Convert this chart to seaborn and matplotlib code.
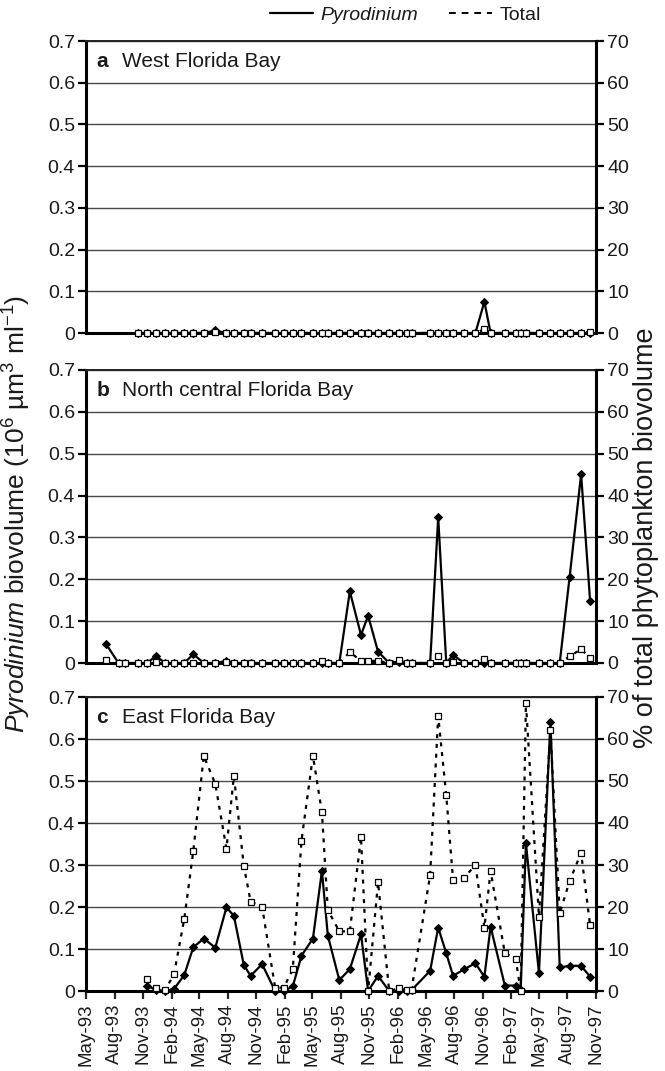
import numpy as np
import pandas as pd
import matplotlib
matplotlib.use("Agg")
import matplotlib.pyplot as plt
import matplotlib.dates as mdates
from matplotlib.lines import Line2D
import seaborn as sns

# ---------------- data ----------------
sample_dates = ['1993-07-04', '1993-08-14', '1993-09-03', '1993-10-16', '1993-11-15', '1993-12-12',
                '1994-01-11', '1994-02-09', '1994-03-14', '1994-04-12', '1994-05-16', '1994-06-22',
                '1994-07-28', '1994-08-21', '1994-09-22', '1994-10-14', '1994-11-20',
                '1995-01-01', '1995-01-29', '1995-02-27', '1995-03-27', '1995-05-03', '1995-06-01',
                '1995-06-20', '1995-07-27', '1995-08-30', '1995-10-05', '1995-10-28', '1995-11-29',
                '1996-01-04', '1996-02-03', '1996-03-02', '1996-03-16', '1996-05-15', '1996-06-10',
                '1996-07-06', '1996-07-28', '1996-09-02', '1996-10-08', '1996-11-06', '1996-11-26',
                '1997-01-11', '1997-02-15', '1997-03-03', '1997-03-20', '1997-05-01', '1997-06-07',
                '1997-07-07', '1997-08-08', '1997-09-14', '1997-10-13']

# a  West Florida Bay (from Oct-93)
west_dates = sample_dates[3:]
west_pyro = [0, 0, 0,
             0, 0, 0, 0, 0, 0.006, 0, 0, 0, 0, 0,
             0, 0, 0, 0, 0, 0, 0, 0, 0, 0, 0, 0,
             0, 0, 0, 0, 0, 0, 0, 0, 0, 0, 0.075, 0,
             0, 0, 0, 0, 0, 0, 0, 0, 0, 0]
west_total = [0, 0, 0,
              0, 0, 0, 0, 0, 0.2, 0, 0, 0, 0, 0,
              0, 0, 0, 0, 0, 0, 0, 0, 0, 0, 0, 0,
              0, 0, 0, 0, 0, 0, 0, 0, 0, 0, 0.9, 0,
              0, 0, 0, 0, 0, 0, 0, 0, 0, 0.3]

# b  North central Florida Bay (from Jul-93)
north_dates = sample_dates
north_pyro = [0.046, 0, 0, 0, 0, 0.017,
              0, 0, 0, 0.021, 0, 0, 0.005, 0, 0, 0, 0,
              0, 0, 0, 0, 0, 0, 0, 0, 0.171, 0.067, 0.113, 0.027,
              0, 0.003, 0, 0, 0, 0.348, 0, 0.019, 0, 0, 0, 0,
              0, 0, 0, 0, 0, 0, 0, 0.206, 0.451, 0.148]
north_total = [0.6, 0, 0, 0, 0, 0.3,
               0, 0, 0, 0.1, 0, 0, 0.3, 0, 0, 0, 0,
               0, 0, 0, 0, 0, 0.4, 0, 0, 2.6, 0.5, 0.5, 0.5,
               0, 0.7, 0, 0, 0, 1.7, 0, 0.3, 0, 0, 1.0, 0,
               0, 0, 0, 0, 0, 0, 0, 1.6, 3.3, 1.2]

# c  East Florida Bay (from Nov-93)
east_dates = sample_dates[4:]
east_pyro = [0.012, 0.003,
             0.0, 0.005, 0.038, 0.104, 0.125, 0.103, 0.199, 0.179, 0.062, 0.036, 0.064,
             0.0, 0.0, 0.011, 0.084, 0.125, 0.286, 0.132, 0.026, 0.052, 0.135, 0.0, 0.036,
             0.0, 0.0, 0.0, 0.002, 0.048, 0.151, 0.090, 0.036, 0.052, 0.066, 0.034, 0.153,
             0.013, 0.013, 0.002, 0.352, 0.042, 0.641, 0.056, 0.060, 0.060, 0.034]
east_total = [2.8, 0.8,
              0.2, 4.0, 17.2, 33.3, 56.0, 49.3, 33.9, 51.2, 29.8, 21.3, 20.1,
              0.8, 0.8, 5.2, 35.8, 56.0, 42.5, 19.3, 14.2, 14.2, 36.7, 0.0, 25.9,
              0.0, 0.6, 0.2, 0.3, 27.6, 65.5, 46.6, 26.4, 27.0, 30.0, 15.1, 28.6,
              9.0, 7.7, 0.0, 68.6, 17.7, 62.1, 18.5, 26.2, 32.9, 15.6]

panel_letters = ['a', 'b', 'c']
panel_titles = ['West Florida Bay', 'North central Florida Bay', 'East Florida Bay']
left_ticks = [0, 0.1, 0.2, 0.3, 0.4, 0.5, 0.6, 0.7]
left_tick_labels = ['0', '0.1', '0.2', '0.3', '0.4', '0.5', '0.6', '0.7']
right_ticks = [0, 10, 20, 30, 40, 50, 60, 70]
right_tick_labels = ['0', '10', '20', '30', '40', '50', '60', '70']
x_start, x_end = '1993-05-01', '1997-11-01'

# ---------------- style ----------------
sns.set_theme(style="white")
plt.rcParams['font.family'] = ['Liberation Sans', 'DejaVu Sans']
plt.rcParams['mathtext.fontset'] = 'custom'
plt.rcParams['mathtext.rm'] = 'Liberation Sans'
plt.rcParams['mathtext.it'] = 'Liberation Sans:italic'
plt.rcParams['mathtext.bf'] = 'Liberation Sans:bold'

TXT = '#1a1a1a'
fig = plt.figure(figsize=(6.65, 10.71), dpi=100)

rects = [
    [86 / 665, (1071 - 333) / 1071, 510 / 665, 292 / 1071],
    [86 / 665, (1071 - 663) / 1071, 510 / 665, 293 / 1071],
    [86 / 665, (1071 - 991) / 1071, 510 / 665, 294 / 1071],
]
datasets = [(west_dates, west_pyro, west_total),
            (north_dates, north_pyro, north_total),
            (east_dates, east_pyro, east_total)]

for i, (rect, (dts, pyro, total)) in enumerate(zip(rects, datasets)):
    ax = fig.add_axes(rect)
    ax2 = ax.twinx()
    df = pd.DataFrame({'date': pd.to_datetime(dts), 'pyro': pyro, 'total': total})

    ax.set_ylim(0, 0.7)
    ax2.set_ylim(0, 70)
    ax.set_xlim(pd.Timestamp(x_start), pd.Timestamp(x_end))

    sns.lineplot(data=df, x='date', y='pyro', ax=ax, color='black', linewidth=1.6,
                 marker='D', markersize=4.2, markeredgecolor='black', markerfacecolor='black',
                 clip_on=False, zorder=3)
    sns.lineplot(data=df, x='date', y='total', ax=ax2, color='black', linewidth=1.6,
                 linestyle=(0, (1.8, 2.6)), marker='s', markersize=4.6,
                 markerfacecolor='white', markeredgecolor='black', markeredgewidth=0.9,
                 clip_on=False, zorder=3)
    ax2.set_xlim(pd.Timestamp(x_start), pd.Timestamp(x_end))

    ax.set_xlabel('')
    ax.set_ylabel('')
    ax2.set_xlabel('')
    ax2.set_ylabel('')

    ax.set_yticks(left_ticks)
    ax.set_yticklabels(left_tick_labels)
    ax2.set_yticks(right_ticks)
    ax2.set_yticklabels(right_tick_labels)

    ax.yaxis.grid(True, color='#4a4a4a', linewidth=1.0)
    ax.xaxis.grid(False)
    ax.set_axisbelow(True)

    for s in ['left', 'bottom']:
        ax.spines[s].set_linewidth(2.2)
        ax.spines[s].set_color('black')
    ax.spines['top'].set_linewidth(1.4)
    ax.spines['top'].set_color('#222222')
    ax.spines['right'].set_visible(False)
    for s in ['left', 'bottom', 'top']:
        ax2.spines[s].set_visible(False)
    ax2.spines['right'].set_linewidth(2.2)
    ax2.spines['right'].set_color('black')

    ax.tick_params(axis='y', direction='out', length=6, width=1.6, labelsize=14,
                   colors='black', labelcolor=TXT, pad=2, left=True)
    ax2.tick_params(axis='y', direction='out', length=6, width=1.6, labelsize=14,
                    colors='black', labelcolor=TXT, pad=2, right=True)

    ax.xaxis.set_major_locator(mdates.MonthLocator(bymonth=[2, 5, 8, 11]))
    ax.xaxis.set_major_formatter(mdates.DateFormatter('%b-%y'))
    if i < 2:
        ax.tick_params(axis='x', length=0, labelbottom=False, bottom=False)
    else:
        ax.tick_params(axis='x', direction='out', length=6, width=1.6, labelsize=13.5,
                       labelcolor=TXT, rotation=90, pad=3, bottom=True)

    ax.text(0.02, 0.93, panel_letters[i], transform=ax.transAxes, fontsize=15,
            fontweight='bold', va='center', ha='left', color=TXT)
    ax.text(0.07, 0.93, panel_titles[i], transform=ax.transAxes, fontsize=15,
            va='center', ha='left', color=TXT)

fig.text(0.026, 0.52, r'$\it{Pyrodinium}$ biovolume (10$^{6}$ µm$^{3}$ ml$^{-1}$)',
         rotation=90, va='center', ha='center', fontsize=19, color=TXT)
fig.text(0.972, 0.498, '% of total phytoplankton biovolume',
         rotation=90, va='center', ha='center', fontsize=19.5, color=TXT)

handles = [Line2D([], [], color='black', linewidth=1.6),
           Line2D([], [], color='black', linewidth=1.4, linestyle=(0, (3.5, 3)))]
leg = fig.legend(handles, ['Pyrodinium', 'Total'], loc='center', bbox_to_anchor=(0.61, 0.986),
                 ncol=2, frameon=False, fontsize=14, handlelength=2.2, columnspacing=1.6,
                 handletextpad=0.4)
leg.get_texts()[0].set_style('italic')
for t in leg.get_texts():
    t.set_color(TXT)

fig.savefig('out.png', dpi=100)
